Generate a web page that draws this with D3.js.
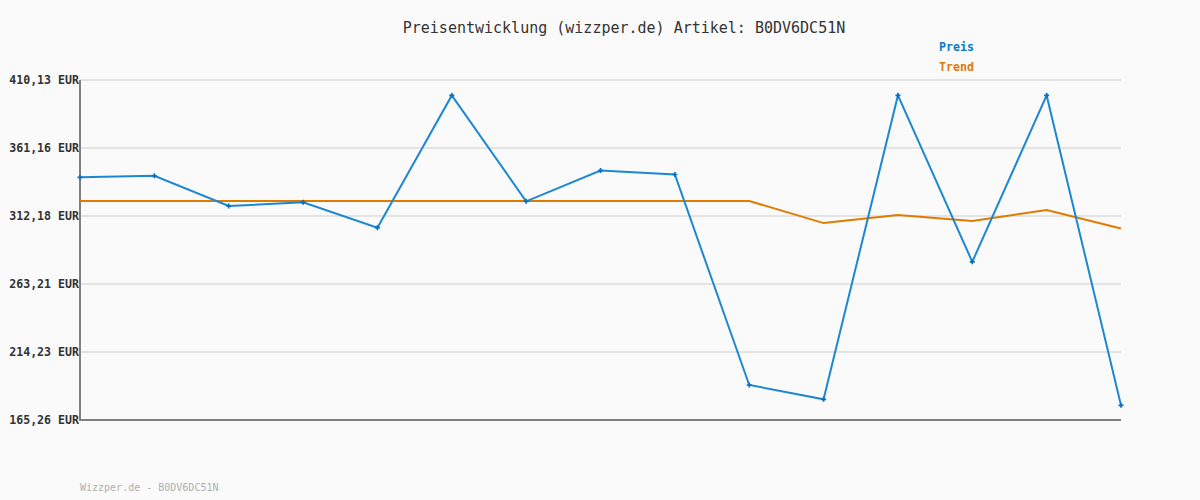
<!DOCTYPE html>
<html>
<head>
<meta charset="utf-8">
<script src="https://cdn.jsdelivr.net/npm/d3@7"></script>
<style>
  html, body { margin: 0; padding: 0; background: #fafafa; }
  svg { display: block; }
  text { font-family: "DejaVu Sans Mono", "Liberation Mono", monospace; }
</style>
</head>
<body>
<svg id="chart" width="1200" height="500"></svg>
<script>
const title = "Preisentwicklung (wizzper.de) Artikel: B0DV6DC51N";
const footer = "Wizzper.de - B0DV6DC51N";
const seriesNames = ["Preis", "Trend"];
const tickValues = [165.26, 214.23, 263.21, 312.18, 361.16, 410.13];
const tickLabels = ["165,26 EUR", "214,23 EUR", "263,21 EUR", "312,18 EUR", "361,16 EUR", "410,13 EUR"];
const pointIndex = [0,1,2,3,4,5,6,7,8,9,10,11,12,13,14];
const preis = [340.05, 341.13, 319.38, 322.05, 303.75, 399.04, 322.77, 344.95, 342.07, 190.47, 180.17, 399.04, 279.20, 399.04, 175.84];
const trend = [322.98, 322.98, 322.98, 322.98, 322.98, 322.98, 322.98, 322.98, 322.98, 322.98, 307.07, 312.90, 308.51, 316.50, 303.18];

(function () {
const svg = d3.select("#chart");
const mL = 80, mR = 1121, mT = 80, mB = 420;

svg.append("rect").attr("width", 1200).attr("height", 500).attr("fill", "#fafafa");

const x = d3.scalePoint().domain(pointIndex).range([mL, mR]);
const y = d3.scaleLinear().domain([tickValues[0], tickValues[tickValues.length - 1]]).range([mB, mT]);

// gridlines
svg.append("g").selectAll("line").data(tickValues.slice(1)).join("line")
  .attr("x1", mL).attr("x2", mR)
  .attr("y1", d => y(d)).attr("y2", d => y(d))
  .attr("stroke", "#e4e4e4").attr("stroke-width", 2);

// y axis labels via d3 axis
const yAxis = d3.axisLeft(y).tickValues(tickValues).tickSize(0).tickPadding(1)
  .tickFormat((d, i) => tickLabels[i]);
const gy = svg.append("g").attr("transform", `translate(${mL},0)`).call(yAxis);
gy.select(".domain").remove();
gy.selectAll("text")
  .attr("font-family", "'DejaVu Sans Mono', monospace")
  .attr("font-size", 11.6).attr("font-weight", "bold").attr("fill", "#333");

// axes lines
svg.append("line").attr("x1", mL).attr("x2", mL).attr("y1", mT).attr("y2", mB + 1)
  .attr("stroke", "#808080").attr("stroke-width", 2);
svg.append("line").attr("x1", mL - 1).attr("x2", mR).attr("y1", mB).attr("y2", mB)
  .attr("stroke", "#808080").attr("stroke-width", 2);

const line = d3.line().x((d, i) => x(pointIndex[i])).y(d => y(d));

svg.append("path").datum(trend).attr("d", line)
  .attr("fill", "none").attr("stroke", "#e07b00").attr("stroke-width", 2);

svg.append("path").datum(preis).attr("d", line)
  .attr("fill", "none").attr("stroke", "#1d88d2").attr("stroke-width", 2);

// markers
svg.append("g").selectAll("path").data(preis).join("path")
  .attr("d", d3.symbol().type(d3.symbolCross).size(14))
  .attr("transform", (d, i) => `translate(${x(pointIndex[i])},${y(d)})`)
  .attr("fill", "#0a6fbf");

// title
svg.append("text").attr("x", 624).attr("y", 33).attr("text-anchor", "middle")
  .attr("font-size", 15).attr("fill", "#333").text(title);

// legend
svg.append("text").attr("x", 974).attr("y", 51).attr("text-anchor", "end")
  .attr("font-size", 11.6).attr("font-weight", "bold").attr("fill", "#0a7ac8").text(seriesNames[0]);
svg.append("text").attr("x", 974).attr("y", 71).attr("text-anchor", "end")
  .attr("font-size", 11.6).attr("font-weight", "bold").attr("fill", "#dc7a0a").text(seriesNames[1]);

// footer
svg.append("text").attr("x", 80).attr("y", 491)
  .attr("font-size", 10).attr("fill", "#b0b0b0").text(footer);
})();
</script>
</body>
</html>
